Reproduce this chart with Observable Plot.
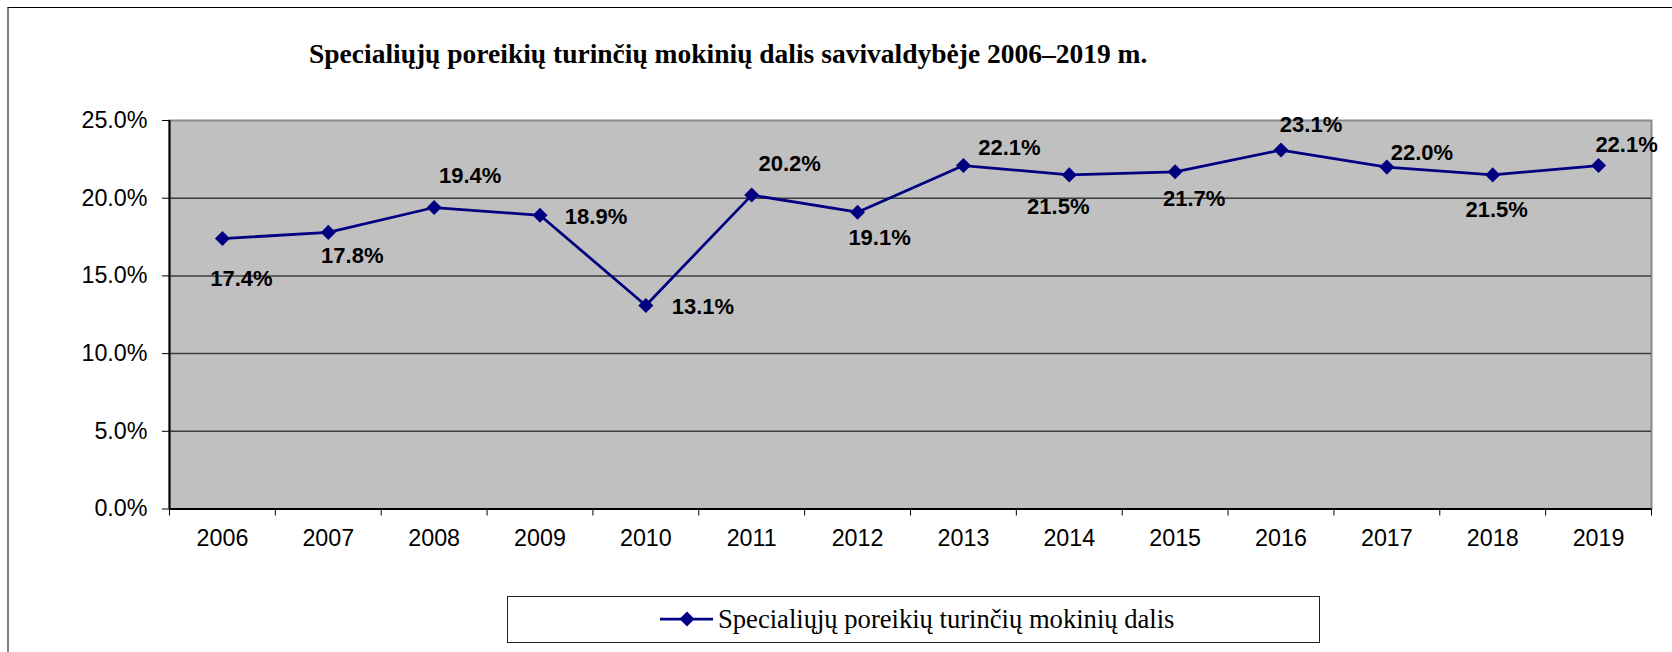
<!DOCTYPE html>
<html>
<head>
<meta charset="utf-8">
<script src="https://cdn.jsdelivr.net/npm/d3@7"></script>
<script src="https://cdn.jsdelivr.net/npm/@observablehq/plot@0.6"></script>
<style>
  html, body { margin: 0; padding: 0; background: #fff; overflow: hidden; }
  #page { position: relative; width: 1672px; height: 652px; overflow: hidden; }
  #outer { position: absolute; left: 7px; top: 7px; width: 3000px; height: 3000px;
           border-left: 2px solid #808080; border-top: 1px solid #000; pointer-events: none; }
  #title { position: relative; height: 100px; }
  #title span { position: absolute; left: 309px; top: 40px; line-height: 1; white-space: nowrap;
                font-family: "Liberation Serif", "Times New Roman", serif; font-weight: bold; font-size: 27.5px; color: #000; }
  #chart { position: relative; height: 480px; }
  #chart svg { display: block; }
  #legend { position: relative; height: 72px; }
  #legend .box { position: absolute; left: 507px; top: 16px; width: 813px; height: 47px; box-sizing: border-box;
                 border: 1.5px solid #222; background: #fff; }
  #legend .swatch { position: absolute; left: 650px; top: 29px; }
  #legend .label { position: absolute; left: 718px; top: 25.7px; line-height: 1; white-space: nowrap;
                   font-family: "Liberation Serif", "Times New Roman", serif; font-size: 26.6px; color: #000; }
</style>
</head>
<body>
<div id="page">
  <div id="outer"></div>
  <div id="title"><span></span></div>
  <div id="chart"></div>
  <div id="legend">
    <div class="box"></div>
    <svg class="swatch" width="70" height="20"></svg>
    <span class="label"></span>
  </div>
</div>
<script>
// ---- data ----
const titleText = "Specialiųjų poreikių turinčių mokinių dalis savivaldybėje 2006–2019 m.";
const seriesName = "Specialiųjų poreikių turinčių mokinių dalis";
const years = [2006, 2007, 2008, 2009, 2010, 2011, 2012, 2013, 2014, 2015, 2016, 2017, 2018, 2019];
const values = [17.4, 17.8, 19.4, 18.9, 13.1, 20.2, 19.1, 22.1, 21.5, 21.7, 23.1, 22.0, 21.5, 22.1];
const yTicks = [0, 5, 10, 15, 20, 25];

// ---- label placement (style: pixel offsets of each data label from its point) ----
const labelDx = [19, 24, 36, 56, 57, 38, 22, 46, -11, 19, 30, 35, 4, 28];
const labelDy = [40, 24, -32, 2, 2, -31, 26, -18, 32, 27, -25, -14, 35, -21];

const data = years.map((year, i) => ({year, value: values[i]}));
const boundaries = years.map(y => y - 0.5).concat([years[years.length - 1] + 0.5]);
const fmt = d => d.toFixed(1) + "%";

const lineColor = "#000080";

// Excel-like square diamond marker
const diamond = {
  draw(ctx, size) {
    const s = Math.sqrt(size / 2);
    ctx.moveTo(0, -s); ctx.lineTo(s, 0); ctx.lineTo(0, s); ctx.lineTo(-s, 0); ctx.closePath();
  }
};

document.querySelector("#title span").textContent = titleText;
document.querySelector("#legend .label").textContent = seriesName;

const labelMarks = data.map((d, i) => Plot.text([d], {
  x: "year", y: "value", text: r => fmt(r.value),
  dx: labelDx[i], dy: labelDy[i],
  textAnchor: "middle", lineAnchor: "middle",
  fontSize: 22, fontWeight: "bold", fill: "#000",
  fontFamily: "'Liberation Sans', Arial, sans-serif"
}));

const chart = Plot.plot({
  width: 1672,
  height: 480,
  marginLeft: 169,
  marginRight: 21,
  marginTop: 20,
  marginBottom: 71.5,
  x: {type: "linear", domain: [boundaries[0], boundaries[boundaries.length - 1]], axis: null, label: null},
  y: {domain: [0, 25], axis: null, label: null},
  style: {fontFamily: "'Liberation Sans', Arial, sans-serif", color: "#000", background: "transparent", overflow: "visible"},
  marks: [
    Plot.frame({fill: "#c0c0c0", stroke: "#8a8a8a", strokeWidth: 2}),
    Plot.ruleY(yTicks.filter(t => t > 0 && t < 25), {stroke: "#3c3c3c", strokeWidth: 1.5}),
    Plot.ruleX([boundaries[0]], {stroke: "#000", strokeWidth: 2}),
    Plot.ruleY([0], {stroke: "#000", strokeWidth: 2}),
    Plot.axisY({ticks: yTicks, tickSize: 7, tickPadding: 15, tickFormat: fmt, fontSize: 23.3, stroke: "#000", fill: "#000", label: null}),
    Plot.axisX({ticks: boundaries, tickSize: 7, tickFormat: () => "", stroke: "#000", label: null}),
    Plot.axisX({ticks: years, tickSize: 0, tickPadding: 20, tickFormat: d => String(d), fontSize: 23.3, fill: "#000", label: null}),
    Plot.line(data, {x: "year", y: "value", stroke: lineColor, strokeWidth: 2.75}),
    Plot.dot(data, {x: "year", y: "value", symbol: diamond, r: 6, fill: lineColor, stroke: "none"}),
    ...labelMarks
  ]
});
document.getElementById("chart").appendChild(chart);

// legend swatch
const sw = d3.select("#legend .swatch");
sw.append("line").attr("x1", 10).attr("x2", 63).attr("y1", 10).attr("y2", 10)
  .attr("stroke", lineColor).attr("stroke-width", 2.75);
sw.append("path").attr("d", "M37,2.5L44.5,10L37,17.5L29.5,10Z").attr("fill", lineColor);
</script>
</body>
</html>
